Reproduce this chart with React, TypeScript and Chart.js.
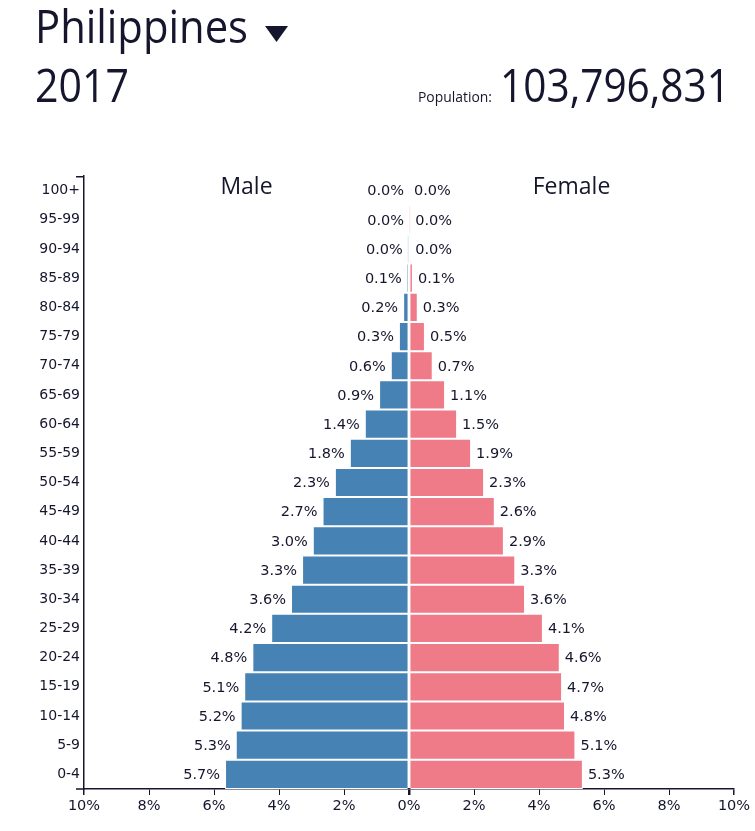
import React, { useEffect, useRef } from "react";
import { Chart, registerables } from "chart.js";

Chart.register(...registerables);

const COUNTRY = "Philippines";
const YEAR = "2017";
const POPULATION_LABEL = "Population:";
const POPULATION = "103,796,831";
const MALE_TITLE = "Male";
const FEMALE_TITLE = "Female";

const ageGroups = [
  "100+", "95-99", "90-94", "85-89", "80-84", "75-79", "70-74",
  "65-69", "60-64", "55-59", "50-54", "45-49", "40-44", "35-39",
  "30-34", "25-29", "20-24", "15-19", "10-14", "5-9", "0-4",
];

const maleValues = [
  0, 0, 0.01, 0.07, 0.18, 0.31, 0.56,
  0.92, 1.36, 1.82, 2.28, 2.66, 2.96, 3.29,
  3.63, 4.24, 4.82, 5.07, 5.18, 5.33, 5.66,
];

const femaleValues = [
  0, 0.01, 0.03, 0.12, 0.27, 0.49, 0.73,
  1.11, 1.48, 1.91, 2.31, 2.64, 2.92, 3.27,
  3.57, 4.12, 4.64, 4.71, 4.80, 5.12, 5.35,
];

const xTickValues = [-10, -8, -6, -4, -2, 0, 2, 4, 6, 8, 10];

const TEXT = "#15162d";
const MALE_COLOR = "#4682b4";
const FEMALE_COLOR = "#ef7b89";

function fitText(ctx: CanvasRenderingContext2D, text: string, x: number, y: number, width: number, font: string) {
  ctx.save();
  ctx.font = font;
  ctx.textAlign = "left";
  ctx.textBaseline = "alphabetic";
  const w = ctx.measureText(text).width;
  ctx.translate(x, y);
  ctx.scale(width / w, 1);
  ctx.fillText(text, 0, 0);
  ctx.restore();
}

const overlayPlugin = {
  id: "overlay",
  afterDraw(chart: any) {
    const ctx: CanvasRenderingContext2D = chart.ctx;
    const area = chart.chartArea;
    ctx.save();
    ctx.fillStyle = TEXT;
    // header
    fitText(ctx, COUNTRY, 35, 43, 213, '46px "Open Sans"');
    ctx.beginPath();
    ctx.moveTo(265, 26);
    ctx.lineTo(288, 26);
    ctx.lineTo(276.5, 42);
    ctx.closePath();
    ctx.fill();
    fitText(ctx, YEAR, 35, 102, 94, '46px "Open Sans"');
    fitText(ctx, POPULATION_LABEL, 418, 102, 74, '14px "Open Sans"');
    fitText(ctx, POPULATION, 500, 102, 230, '45px "Open Sans"');

    // sex titles
    const xs = chart.scales.x;
    const zero = xs.getPixelForValue(0);
    ctx.font = '23px "Open Sans"';
    ctx.textAlign = "center";
    ctx.textBaseline = "alphabetic";
    ctx.fillText(MALE_TITLE, (area.left + zero) / 2, 194);
    ctx.fillText(FEMALE_TITLE, (area.right + zero) / 2, 194);

    // data labels
    ctx.font = '14.5px "DejaVu Sans"';
    ctx.textBaseline = "middle";
    const mMeta = chart.getDatasetMeta(0);
    const fMeta = chart.getDatasetMeta(1);
    mMeta.data.forEach((el: any, i: number) => {
      ctx.textAlign = "right";
      ctx.fillText(Math.abs(maleValues[i]).toFixed(1) + "%", Math.min(el.x, el.base) - 5, el.y + 1);
    });
    fMeta.data.forEach((el: any, i: number) => {
      ctx.textAlign = "left";
      ctx.fillText(femaleValues[i].toFixed(1) + "%", Math.max(el.x, el.base) + 5, el.y + 1);
    });

    // y-axis outer ticks
    ctx.strokeStyle = TEXT;
    ctx.lineWidth = 1.5;
    ctx.beginPath();
    ctx.moveTo(area.left - 8, area.top + 0.75);
    ctx.lineTo(area.left, area.top + 0.75);
    ctx.moveTo(area.left - 8, area.bottom);
    ctx.lineTo(area.left, area.bottom);
    ctx.stroke();
    ctx.restore();
  },
};

export default function App() {
  const ref = useRef<HTMLCanvasElement | null>(null);
  useEffect(() => {
    if (!ref.current) return;
    const chart = new Chart(ref.current, {
      type: "bar",
      data: {
        labels: ageGroups,
        datasets: [
          {
            label: MALE_TITLE,
            data: maleValues.map((v) => -v),
            backgroundColor: MALE_COLOR,
            borderColor: "#ffffff",
            borderWidth: 1,
            borderSkipped: "start",
            inflateAmount: 0,
            barPercentage: 1,
            categoryPercentage: 1,
          },
          {
            label: FEMALE_TITLE,
            data: femaleValues,
            backgroundColor: FEMALE_COLOR,
            borderColor: "#ffffff",
            borderWidth: 1,
            borderSkipped: "start",
            inflateAmount: 0,
            barPercentage: 1,
            categoryPercentage: 1,
          },
        ],
      },
      options: {
        animation: false,
        responsive: false,
        maintainAspectRatio: false,
        indexAxis: "y",
        layout: { padding: { top: 176, right: 21, left: 0, bottom: 0 } },
        plugins: {
          legend: { display: false },
          tooltip: { enabled: false },
          title: { display: false },
        },
        scales: {
          x: {
            type: "linear",
            min: -10,
            max: 10,
            stacked: true,
            afterBuildTicks: (s: any) => {
              s.ticks = xTickValues.map((v) => ({ value: v }));
            },
            ticks: {
              callback: (v: any) => Math.abs(Number(v)) + "%",
              color: TEXT,
              font: { family: "DejaVu Sans", size: 14.5 },
              padding: 3,
              maxRotation: 0,
              autoSkip: false,
            },
            grid: {
              drawOnChartArea: false,
              drawTicks: true,
              tickLength: 6,
              color: TEXT,
              lineWidth: (c: any) => (c.tick && c.tick.value === 0 ? 2.5 : Math.abs(c.tick?.value) === 10 ? 1.5 : 1),
            },
            border: { display: true, color: TEXT, width: 1.5 },
            afterFit: (s: any) => {
              s.height = 42;
            },
          },
          y: {
            stacked: true,
            ticks: {
              color: TEXT,
              font: { family: "DejaVu Sans", size: 14 },
              padding: 4,
              autoSkip: false,
            },
            grid: { drawOnChartArea: false, drawTicks: false },
            border: { display: true, color: TEXT, width: 1.5 },
            afterFit: (s: any) => {
              s.width = 84;
            },
          },
        },
      } as any,
      plugins: [overlayPlugin],
    });
    return () => chart.destroy();
  }, []);
  return (
    <div style={{ position: "absolute", left: 0, top: 0, width: 755, height: 831, background: "#ffffff" }}>
      <canvas ref={ref} width={755} height={831} style={{ width: 755, height: 831, display: "block" }} />
    </div>
  );
}
